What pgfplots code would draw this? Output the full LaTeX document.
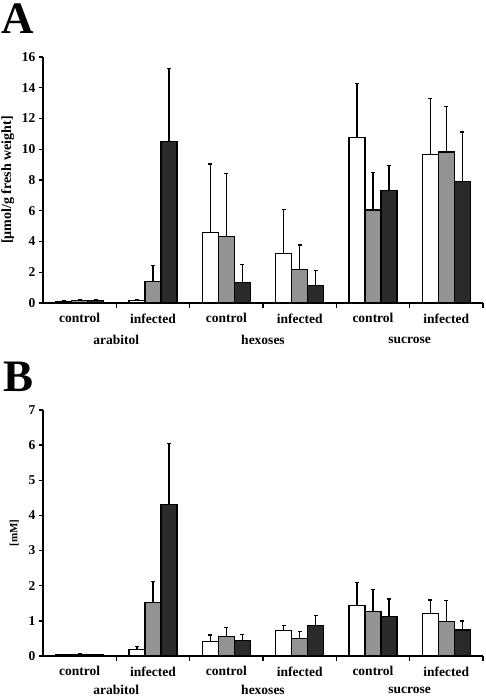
\documentclass[border=0pt]{standalone}
\usepackage{pgfplots}
\pgfplotsset{compat=1.18}
\usepackage{fontspec}
\setmainfont{Liberation Serif}
\definecolor{barG}{RGB}{147,147,147}
\definecolor{barD}{RGB}{42,42,42}
\newcommand{\tf}{\fontsize{13.5}{14}\selectfont\bfseries}
\pgfplotsset{
  panel/.style={
    scale only axis, width=440pt, height=246pt, clip=false,
    axis x line*=bottom, axis y line*=left,
    axis line style={line width=1.4pt},
    xmin=-0.5, xmax=5.5, ymin=0,
    ybar=0pt, bar width=0.218,
    xtick={0,...,5},
    xticklabels={control,infected,control,infected,control,infected},
    major x tick style={draw=none},
    minor xtick={0.5,1.5,2.5,3.5,4.5,5.5},
    minor x tick style={line width=1.4pt, black},
    minor tick length=5pt,
    major tick length=4pt,
    tick align=outside,
    y tick style={line width=1.4pt, black},
    tick label style={font=\tf},
    /pgf/number format/assume math mode=true,
    xticklabel style={yshift=-3pt},
    every axis plot/.append style={draw=black, line width=1.1pt},
    error bars/y dir=plus, error bars/y explicit,
    error bars/error bar style={line width=1.3pt, black},
    error bars/error mark options={line width=1.3pt, black, mark size=2pt, rotate=90},
  }
}
\begin{document}
\begin{tikzpicture}
\useasboundingbox (0,0) rectangle (486pt,696pt);
\node[anchor=base west, inner sep=0pt, font=\fontsize{45}{45}\selectfont\bfseries] at (1pt,662pt) {A};
\node[anchor=base west, inner sep=0pt, font=\fontsize{45}{45}\selectfont\bfseries] at (3pt,304pt) {B};

\begin{axis}[panel, at={(43pt,393pt)}, anchor=south west,
  ymax=16, ytick={0,2,...,16},
  ylabel={[µmol/g fresh weight]},
  ylabel style={font=\fontsize{14}{14}\selectfont\bfseries, yshift=1pt}]
\addplot[fill=white] coordinates {(0,0.10)+-(0,0.04) (1,0.15)+-(0,0.05) (2,4.6)+-(0,4.45) (3,3.19)+-(0,2.88) (4,10.78)+-(0,3.51) (5,9.63)+-(0,3.68)};
\addplot[fill=barG] coordinates {(0,0.15)+-(0,0.05) (1,1.40)+-(0,1.05) (2,4.3)+-(0,4.1) (3,2.15)+-(0,1.62) (4,6.05)+-(0,2.45) (5,9.82)+-(0,2.98)};
\addplot[fill=barD] coordinates {(0,0.15)+-(0,0.05) (1,10.5)+-(0,4.75) (2,1.35)+-(0,1.15) (3,1.13)+-(0,0.97) (4,7.30)+-(0,1.63) (5,7.91)+-(0,3.21)};
\node[font=\tf] at (rel axis cs:0.16667,0) [yshift=-37pt] {arabitol};
\node[font=\tf] at (rel axis cs:0.5,0) [yshift=-37pt] {hexoses};
\node[font=\tf] at (rel axis cs:0.83333,0) [yshift=-37pt] {sucrose};
\end{axis}

\begin{axis}[panel, at={(43pt,40pt)}, anchor=south west,
  ymax=7, ytick={0,1,...,7},
  ylabel={[mM]},
  ylabel style={font=\fontsize{11}{11}\selectfont\bfseries, yshift=3pt}]
\addplot[fill=white] coordinates {(0,0.03)+-(0,0.02) (1,0.18)+-(0,0.10) (2,0.40)+-(0,0.20) (3,0.72)+-(0,0.14) (4,1.44)+-(0,0.66) (5,1.22)+-(0,0.37)};
\addplot[fill=barG] coordinates {(0,0.05)+-(0,0.02) (1,1.52)+-(0,0.60) (2,0.55)+-(0,0.27) (3,0.51)+-(0,0.18) (4,1.26)+-(0,0.63) (5,0.98)+-(0,0.59)};
\addplot[fill=barD] coordinates {(0,0.03)+-(0,0.02) (1,4.30)+-(0,1.75) (2,0.43)+-(0,0.19) (3,0.86)+-(0,0.29) (4,1.13)+-(0,0.49) (5,0.74)+-(0,0.26)};
\node[font=\tf] at (rel axis cs:0.16667,0) [yshift=-34pt] {arabitol};
\node[font=\tf] at (rel axis cs:0.5,0) [yshift=-34pt] {hexoses};
\node[font=\tf] at (rel axis cs:0.83333,0) [yshift=-34pt] {sucrose};
\end{axis}
\end{tikzpicture}
\end{document}
